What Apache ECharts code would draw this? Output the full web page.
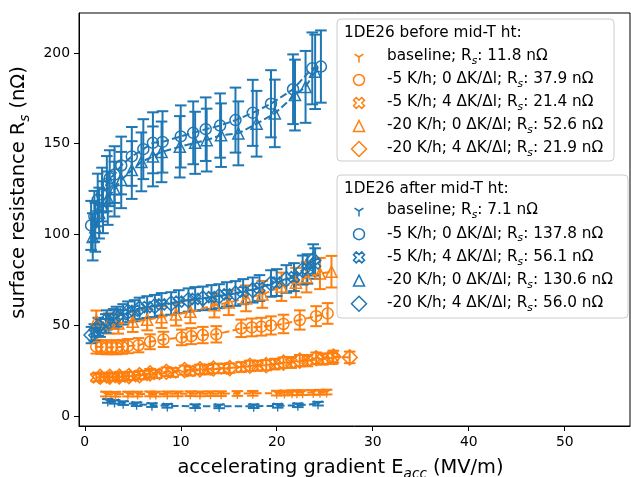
<!DOCTYPE html>
<html>
<head>
<meta charset="utf-8">
<script src="https://cdn.jsdelivr.net/npm/echarts@6/dist/echarts.min.js"></script>
<style>
  html, body { margin: 0; padding: 0; background: #ffffff; }
  #chart { width: 631px; height: 477px; }
</style>
</head>
<body>
<div id="chart"></div>
<script>
// ---- axis ticks ----
const xTicks = [0, 10, 20, 30, 40, 50];
const yTicks = [0, 50, 100, 150, 200];

// ---- 1DE26 before mid-T heat treatment (orange) ----
const bBaseE = [2.2, 3.2, 4.5, 5.5, 6.8, 7.4, 8.6, 9.7, 11.0, 12.0, 13.1, 14.2, 15.9, 17.5, 20.0, 20.8, 21.6, 22.1, 22.7, 23.8, 24.5, 25.2];
const bBaseR = [12.1, 12.0, 12.1, 12.1, 12.2, 12.1, 12.2, 12.2, 12.3, 12.2, 12.3, 12.3, 12.4, 12.5, 12.6, 12.7, 12.8, 12.8, 12.9, 13.0, 13.1, 13.2];
const bBaseErr = [1.3, 1.3, 1.3, 1.3, 1.3, 1.3, 1.3, 1.3, 1.3, 1.3, 1.3, 1.3, 1.3, 1.3, 1.3, 1.3, 1.3, 1.3, 1.3, 1.3, 1.3, 1.3];

const bC5E = [1.2, 1.7, 2.3, 2.8, 3.3, 3.9, 4.5, 5.6, 6.8, 8.2, 10.1, 11.1, 12.3, 13.7, 16.3, 17.4, 18.4, 19.4, 20.7, 22.4, 24.1, 25.3];
const bC5R = [38.2, 38.0, 37.8, 37.9, 37.8, 38.1, 38.5, 39.0, 40.9, 42.2, 43.3, 44.0, 44.6, 45.0, 48.3, 48.8, 49.2, 49.9, 50.7, 52.9, 55.0, 56.5];
const bC5Err = [3.8, 3.8, 3.8, 3.8, 3.8, 3.8, 3.9, 3.9, 4.1, 4.2, 4.3, 4.4, 4.5, 4.5, 4.8, 4.9, 4.9, 5.0, 5.1, 5.3, 5.5, 5.7];

const bX5E = [1.2, 2.0, 2.9, 3.9, 5.0, 6.2, 7.5, 9.2, 11.0, 12.8, 14.5, 16.3, 18.0, 19.8, 21.5, 23.2, 24.8, 25.8];
const bX5R = [21.2, 21.3, 21.4, 21.6, 22.0, 22.6, 23.2, 24.0, 24.8, 25.6, 26.2, 27.0, 27.7, 28.6, 29.5, 30.5, 31.4, 31.9];
const bX5Err = [2.1, 2.1, 2.1, 2.2, 2.2, 2.3, 2.3, 2.4, 2.5, 2.6, 2.6, 2.7, 2.8, 2.9, 3.0, 3.1, 3.1, 3.2];

const bT20E = [1.2, 2.5, 3.5, 5.0, 6.5, 8.0, 9.5, 11.0, 13.5, 15.0, 16.8, 18.5, 20.5, 22.0, 23.1, 24.5, 25.7];
const bT20R = [52.5, 51.0, 51.0, 52.0, 53.0, 54.5, 56.0, 57.4, 61.0, 62.5, 64.8, 67.0, 71.2, 73.5, 76.5, 78.5, 79.5];
const bT20Err = [5.6, 5.6, 5.6, 5.7, 5.8, 6.0, 6.2, 6.3, 6.7, 6.9, 7.1, 7.4, 7.8, 8.1, 8.4, 8.6, 8.7];

const bD20E = [1.6, 2.6, 3.6, 4.6, 5.7, 6.8, 8.5, 10.4, 12.0, 13.4, 15.1, 17.2, 18.9, 20.7, 22.4, 24.1, 25.9, 27.6];
const bD20R = [21.6, 21.6, 21.8, 22.0, 22.5, 23.5, 24.4, 25.3, 25.7, 26.2, 26.4, 27.7, 28.0, 29.4, 30.5, 31.8, 32.7, 32.3];
const bD20Err = [2.2, 2.2, 2.2, 2.2, 2.3, 2.4, 2.4, 2.5, 2.6, 2.6, 2.6, 2.8, 2.8, 2.9, 3.1, 3.2, 3.3, 3.2];

// ---- 1DE26 after mid-T heat treatment (blue) ----
const aBaseE = [2.4, 3.1, 4.0, 5.4, 7.0, 8.6, 11.5, 14.0, 17.6, 20.1, 22.2, 24.3];
const aBaseR = [8.3, 7.8, 7.1, 6.5, 6.0, 5.6, 5.4, 5.3, 5.4, 5.6, 5.9, 6.8];
const aBaseErr = [1.0, 1.0, 1.0, 1.0, 1.0, 1.0, 1.0, 1.0, 1.0, 1.0, 1.0, 1.0];

const aC5E = [0.66, 1.0, 1.35, 1.8, 2.3, 2.6, 3.1, 3.8, 4.9, 6.1, 7.1, 8.1, 10.0, 11.3, 12.6, 14.1, 15.7, 17.5, 19.4, 21.7, 23.7, 24.6];
const aC5R = [105, 110, 119, 122, 128, 131, 133, 138, 143, 147, 150.5, 151, 154, 156, 158, 160, 163, 167, 172, 180, 191.5, 192.5];
const aC5Err = [13.5, 14, 14.5, 14.8, 15.2, 15.4, 15.6, 15.9, 16.2, 16.5, 16.8, 16.9, 17.1, 17.3, 17.5, 17.7, 17.9, 18.2, 18.5, 19.2, 19.8, 19.9];

const aX5E = [1.0, 1.6, 2.2, 3.0, 4.0, 5.2, 6.5, 8.0, 9.8, 11.5, 13.2, 14.8, 16.5, 18.2, 20.0, 21.8, 23.2, 24.0];
const aX5R = [46.0, 48.5, 51.0, 53.5, 56.0, 58.0, 60.0, 61.5, 63.0, 64.5, 65.5, 67.0, 68.5, 70.5, 73.5, 76.5, 81.0, 84.0];
const aX5Err = [4.6, 4.9, 5.1, 5.4, 5.6, 5.8, 6.0, 6.2, 6.3, 6.5, 6.6, 6.7, 6.9, 7.1, 7.4, 7.7, 8.1, 8.4];

const aT20E = [0.83, 1.1, 1.5, 1.9, 2.4, 3.1, 3.8, 4.9, 5.9, 7.1, 8.0, 9.9, 11.5, 12.7, 14.2, 16.0, 17.9, 19.8, 21.9, 23.0, 24.0];
const aT20R = [98.7, 104, 111.8, 115, 120, 125, 130, 135.5, 140, 143, 145.5, 148.3, 150.5, 152, 154.7, 155.7, 161, 166.7, 176.8, 181.3, 189.6];
const aT20Err = [13, 13.5, 14, 14.3, 14.7, 15.1, 15.5, 15.9, 16.2, 16.5, 16.7, 16.9, 17.1, 17.3, 17.5, 17.6, 18.1, 18.6, 19.5, 19.8, 20.5];

const aD20E = [0.7, 1.4, 2.3, 3.3, 4.5, 5.7, 7.3, 9.0, 10.8, 12.3, 14.0, 15.7, 17.5, 19.4, 21.0, 22.7, 23.8];
const aD20R = [44.6, 49.2, 52.9, 54.7, 57.4, 59.3, 60.6, 62.0, 63.9, 64.8, 66.0, 67.5, 69.4, 73.0, 75.5, 80.4, 86.0];
const aD20Err = [4.5, 4.9, 5.3, 5.5, 5.7, 5.9, 6.1, 6.2, 6.4, 6.5, 6.6, 6.8, 6.9, 7.3, 7.6, 8.0, 8.6];

// ---- legend texts ----
const beforeTitle = '1DE26 before mid-T ht:';
const afterTitle = '1DE26 after mid-T ht:';
const rowNames = ['baseline', '-5 K/h; 0 \u0394K/\u0394l', '-5 K/h; 4 \u0394K/\u0394l', '-20 K/h; 0 \u0394K/\u0394l', '-20 K/h; 4 \u0394K/\u0394l'];
const beforeRs = ['11.8', '37.9', '21.4', '52.6', '21.9'];
const afterRs = ['7.1', '137.8', '56.1', '130.6', '56.0'];

const BLUE = '#1f77b4';
const ORANGE = '#ff7f0e';
const FONT = 'DejaVu Sans';

// marker shapes (centred paths)
const MARK = {
  tri: { symbol: 'path://M0,-1M0,0L0,1M0,0L-0.8,-0.5M0,0L0.8,-0.5', size: [8.9, 11.1] },
  circle: { symbol: 'circle', size: 11 },
  xfill: { symbol: 'path://M-1,-2L0,-1L1,-2L2,-1L1,0L2,1L1,2L0,1L-1,2L-2,1L-1,0L-2,-1Z', size: [11, 11] },
  triangle: { symbol: 'path://M0,-1L1,1L-1,1Z', size: [11.1, 11.1] },
  diamond: { symbol: 'path://M0,-1L1,0L0,1L-1,0Z', size: [15, 15] }
};
const markOrder = ['tri', 'circle', 'xfill', 'triangle', 'diamond'];

function errorBars(color, E, R, Err) {
  return {
    type: 'custom',
    silent: true,
    animation: false,
    data: E.map((e, i) => [e, R[i], Err[i]]),
    encode: { x: 0, y: 1 },
    renderItem(params, api) {
      const x = api.value(0), y = api.value(1), d = api.value(2);
      const top = api.coord([x, y + d]);
      const bot = api.coord([x, y - d]);
      const cap = 5.8;
      const st = { stroke: color, lineWidth: 2 };
      return {
        type: 'group',
        children: [
          { type: 'line', shape: { x1: top[0], y1: top[1], x2: bot[0], y2: bot[1] }, style: st },
          { type: 'line', shape: { x1: top[0] - cap, y1: top[1], x2: top[0] + cap, y2: top[1] }, style: st },
          { type: 'line', shape: { x1: bot[0] - cap, y1: bot[1], x2: bot[0] + cap, y2: bot[1] }, style: st }
        ]
      };
    }
  };
}

function dataLine(color, E, R, mark) {
  return {
    type: 'line',
    silent: true,
    animation: false,
    data: E.map((e, i) => [e, R[i]]),
    symbol: MARK[mark].symbol,
    symbolSize: MARK[mark].size,
    showSymbol: true,
    itemStyle: { color: 'rgba(0,0,0,0)', borderColor: color, borderWidth: 1.5 },
    lineStyle: { color: color, width: 2, type: [7.4, 3.2] }
  };
}

const groups = [
  [ORANGE, bBaseE, bBaseR, bBaseErr, 'tri'],
  [ORANGE, bC5E, bC5R, bC5Err, 'circle'],
  [ORANGE, bX5E, bX5R, bX5Err, 'xfill'],
  [ORANGE, bT20E, bT20R, bT20Err, 'triangle'],
  [ORANGE, bD20E, bD20R, bD20Err, 'diamond'],
  [BLUE, aBaseE, aBaseR, aBaseErr, 'tri'],
  [BLUE, aC5E, aC5R, aC5Err, 'circle'],
  [BLUE, aX5E, aX5R, aX5Err, 'xfill'],
  [BLUE, aT20E, aT20R, aT20Err, 'triangle'],
  [BLUE, aD20E, aD20R, aD20Err, 'diamond']
];

const series = [];
groups.forEach(([c, E, R, Err, m]) => {
  series.push(errorBars(c, E, R, Err));
  series.push(dataLine(c, E, R, m));
});

// ---- legend boxes drawn as graphic elements ----
const richLegend = {
  t: { fontSize: 15.3, fontFamily: FONT, color: '#000', lineHeight: 18, verticalAlign: 'top' },
  s: { fontSize: 10.7, fontFamily: FONT, fontStyle: 'italic', color: '#000', lineHeight: 11, padding: [9, 0, 0, 0], verticalAlign: 'bottom' }
};

function legendMarker(kind, color, cx, cy) {
  const st = { stroke: color, fill: 'none', lineWidth: 1.5 };
  if (kind === 'tri') {
    return { type: 'polyline', shape: { points: [[cx - 4.4, cy - 2.8], [cx, cy], [cx + 4.4, cy - 2.8], [cx, cy], [cx, cy + 5.5]] }, style: st };
  }
  if (kind === 'circle') return { type: 'circle', shape: { cx: cx, cy: cy, r: 5.5 }, style: st };
  if (kind === 'triangle') {
    return { type: 'polygon', shape: { points: [[cx, cy - 5.5], [cx + 5.5, cy + 5.5], [cx - 5.5, cy + 5.5]] }, style: st };
  }
  if (kind === 'diamond') {
    return { type: 'polygon', shape: { points: [[cx, cy - 7.5], [cx + 7.5, cy], [cx, cy + 7.5], [cx - 7.5, cy]] }, style: st };
  }
  const u = 2.75;
  const pts = [[-1, -2], [0, -1], [1, -2], [2, -1], [1, 0], [2, 1], [1, 2], [0, 1], [-1, 2], [-2, 1], [-1, 0], [-2, -1]]
    .map(p => [cx + p[0] * u, cy + p[1] * u]);
  return { type: 'polygon', shape: { points: pts }, style: st };
}

function legendBox(box, title, rs, color) {
  const els = [
    { type: 'rect', shape: { x: box.x, y: box.y, width: box.w, height: box.h, r: 4 },
      style: { fill: 'rgba(255,255,255,0.8)', stroke: '#cccccc', lineWidth: 1 } },
    { type: 'text', x: box.x + 7, y: box.titleY,
      style: { text: title, fontSize: 15.3, fontFamily: FONT, fill: '#000', verticalAlign: 'middle' } }
  ];
  rowNames.forEach((nm, i) => {
    const cy = box.rowY + i * box.step;
    els.push(legendMarker(markOrder[i], color, box.x + 22, cy));
    els.push({ type: 'text', x: box.x + 50, y: cy + 1,
      style: { text: '{t|' + nm + '; R}{s|s}{t|: ' + rs[i] + ' n\u03a9}', rich: richLegend, verticalAlign: 'middle' } });
  });
  return { type: 'group', z: 100, children: els };
}

const axisNameRich = {
  t: { fontSize: 19.4, fontFamily: FONT, color: '#000', lineHeight: 23, verticalAlign: 'top' },
  s: { fontSize: 13.6, fontFamily: FONT, fontStyle: 'italic', color: '#000', lineHeight: 14, padding: [11, 0, 0, 0], verticalAlign: 'bottom' }
};

const option = {
  animation: false,
  backgroundColor: '#ffffff',
  grid: { left: 79, top: 13, width: 551, height: 413, outerBoundsMode: 'none', containLabel: false,
          show: true, borderColor: '#000', borderWidth: 1, backgroundColor: 'transparent' },
  xAxis: {
    type: 'value', min: -0.6, max: 56.8,
    name: '{t|accelerating gradient E}{s|acc}{t| (MV/m)}',
    nameLocation: 'middle', nameGap: 32,
    nameTextStyle: { rich: axisNameRich, padding: [0, 28, 0, 0] },
    axisLine: { onZero: false, lineStyle: { color: '#000', width: 1 } },
    axisTick: { show: true, inside: false, length: 5, customValues: xTicks, lineStyle: { color: '#000', width: 1 } },
    axisLabel: { customValues: xTicks, margin: 9, fontSize: 13.9, fontFamily: FONT, color: '#000' },
    splitLine: { show: false }
  },
  yAxis: {
    type: 'value', min: -5.5, max: 222,
    name: '{t|surface resistance R}{s|s}{t| (n\u03a9)}',
    nameLocation: 'middle', nameGap: 43, nameRotate: 90,
    nameTextStyle: { rich: axisNameRich, padding: [0, 0, 0, 54] },
    axisLine: { show: true, onZero: false, lineStyle: { color: '#000', width: 1 } },
    axisTick: { show: true, inside: false, length: 5, customValues: yTicks, lineStyle: { color: '#000', width: 1 } },
    axisLabel: { customValues: yTicks, margin: 9, fontSize: 13.9, fontFamily: FONT, color: '#000' },
    splitLine: { show: false }
  },
  series: series,
  graphic: [
    legendBox({ x: 337, y: 19, w: 277, h: 142, titleY: 33, rowY: 57, step: 23 }, beforeTitle, beforeRs, ORANGE),
    legendBox({ x: 337, y: 175, w: 291, h: 143, titleY: 189.5, rowY: 211, step: 23.2 }, afterTitle, afterRs, BLUE)
  ]
};

const chart = echarts.init(document.getElementById('chart'), null, { renderer: 'canvas' });
chart.setOption(option);
</script>
</body>
</html>
